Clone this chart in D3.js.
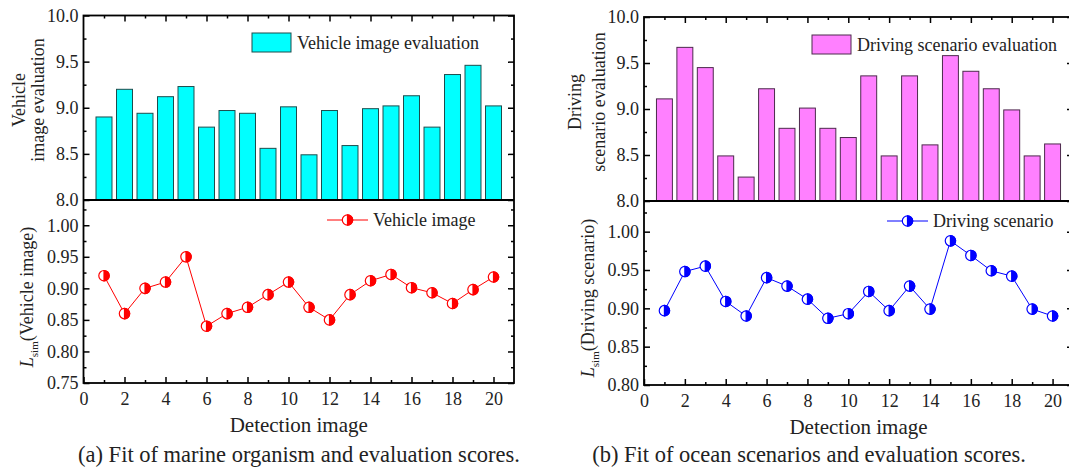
<!DOCTYPE html>
<html>
<head>
<meta charset="utf-8">
<script src="https://cdn.jsdelivr.net/npm/d3@7"></script>
<style>
  body { margin: 0; background: #fff; }
  svg { display: block; font-family: "Liberation Serif", "Times New Roman", serif; }
</style>
</head>
<body>
<svg id="chart" width="1069" height="468"></svg>
<script>
// detection image index
var images = [1, 2, 3, 4, 5, 6, 7, 8, 9, 10, 11, 12, 13, 14, 15, 16, 17, 18, 19, 20];

// (a) vehicle
var vehicleEval = [8.90, 9.20, 8.94, 9.12, 9.23, 8.79, 8.97, 8.94, 8.56, 9.01,
                   8.49, 8.97, 8.59, 8.99, 9.02, 9.13, 8.79, 9.36, 9.46, 9.02];
var vehicleSim  = [0.920, 0.860, 0.900, 0.910, 0.950, 0.840, 0.860, 0.870, 0.890, 0.910,
                   0.870, 0.850, 0.890, 0.912, 0.922, 0.901, 0.893, 0.876, 0.898, 0.918];

// (b) driving scenario
var drivingEval = [9.11, 9.67, 9.45, 8.49, 8.26, 9.22, 8.79, 9.01, 8.79, 8.69,
                   9.36, 8.49, 9.36, 8.61, 9.58, 9.41, 9.22, 8.99, 8.49, 8.62];
var drivingSim  = [0.897, 0.948, 0.955, 0.909, 0.890, 0.940, 0.929, 0.912, 0.887, 0.893,
                   0.922, 0.897, 0.929, 0.899, 0.988, 0.969, 0.949, 0.942, 0.899, 0.890];

var xTickLabels = [0, 2, 4, 6, 8, 10, 12, 14, 16, 18, 20];
var evalTicks = [8.0, 8.5, 9.0, 9.5, 10.0];
var simTicksA = [0.75, 0.80, 0.85, 0.90, 0.95, 1.00];
var simTicksB = [0.80, 0.85, 0.90, 0.95, 1.00];

var svg = d3.select("#chart");

var panels = [
  {
    left: 83.5, right: 514, topY: 15.5, midY: 200, botY: 383,
    simDomain: [0.75, 1.04], simTicks: simTicksA,
    bars: vehicleEval, sim: vehicleSim,
    barFill: "#00FFFF", barStroke: "#1d4d4d", lineColor: "#FF0000",
    title1: "Vehicle", title2: "image evaluation", t1x: 25, t2x: 44, tcy: 100,
    simTitle: "(Vehicle image)", stx: 33, scy: 297,
    barLegend: "Vehicle image evaluation", lineLegend: "Vehicle image",
    blx: 252, bly: 33, llx: 327, lly: 220,
    caption: "(a) Fit of marine organism and evaluation scores.", capX: 299
  },
  {
    left: 644, right: 1073, topY: 17, midY: 201, botY: 385,
    simDomain: [0.80, 1.04], simTicks: simTicksB,
    bars: drivingEval, sim: drivingSim,
    barFill: "#FF80FF", barStroke: "#4d2a4d", lineColor: "#0000FF",
    title1: "Driving", title2: "scenario evaluation", t1x: 581, t2x: 605, tcy: 102,
    simTitle: "(Driving scenario)", stx: 594, scy: 298,
    barLegend: "Driving scenario evaluation", lineLegend: "Driving scenario",
    blx: 812, bly: 35, llx: 887, lly: 221,
    caption: "(b) Fit of ocean scenarios and evaluation scores.", capX: 809
  }
];

function halfMarker(g, cx, cy, r, color) {
  g.append("circle")
    .attr("cx", cx).attr("cy", cy).attr("r", r)
    .attr("fill", "#fff").attr("stroke", color).attr("stroke-width", 1.2);
  g.append("path")
    .attr("d", "M" + cx + "," + (cy - r) + " A" + r + "," + r + " 0 0 1 " + cx + "," + (cy + r) + " Z")
    .attr("fill", color).attr("stroke", color).attr("stroke-width", 1.2);
}

function styleAxis(g) {
  g.select(".domain").remove();
  g.selectAll(".tick line").attr("stroke", "#000").attr("stroke-width", 1.5);
  g.selectAll(".tick text").attr("fill", "#222").style("font-size", "18px")
    .style("font-family", "Liberation Serif, serif");
}

panels.forEach(function(p) {
  var x = d3.scaleLinear().domain([0, 21]).range([p.left, p.right]);
  var yBar = d3.scaleLinear().domain([8, 10]).range([p.midY, p.topY]);
  var ySim = d3.scaleLinear().domain(p.simDomain).range([p.botY, p.midY]);
  var bw = x(0.78) - x(0);

  // bars
  svg.append("g").selectAll("rect")
    .data(p.bars)
    .enter().append("rect")
    .attr("x", function(d, i) { return x(images[i]) - bw / 2; })
    .attr("y", function(d) { return yBar(d); })
    .attr("width", bw)
    .attr("height", function(d) { return yBar(8) - yBar(d); })
    .attr("fill", p.barFill)
    .attr("stroke", p.barStroke)
    .attr("stroke-width", 1);

  // top plot ticks (all inward)
  var evalMinor = d3.range(8.25, 10, 0.5);
  var xMajor = xTickLabels;
  var xMinor = d3.range(1, 21, 2);

  svg.append("g").attr("transform", "translate(" + p.left + ",0)")
    .call(d3.axisLeft(yBar).tickValues(evalTicks).tickSize(-6).tickPadding(5).tickFormat(d3.format(".1f")))
    .call(styleAxis);
  svg.append("g").attr("transform", "translate(" + p.left + ",0)")
    .call(d3.axisLeft(yBar).tickValues(evalMinor).tickSize(-3).tickFormat(""))
    .call(styleAxis);
  svg.append("g").attr("transform", "translate(" + p.right + ",0)")
    .call(d3.axisRight(yBar).tickValues(evalTicks).tickSize(-6).tickFormat(""))
    .call(styleAxis);
  svg.append("g").attr("transform", "translate(" + p.right + ",0)")
    .call(d3.axisRight(yBar).tickValues(evalMinor).tickSize(-3).tickFormat(""))
    .call(styleAxis);
  svg.append("g").attr("transform", "translate(0," + p.topY + ")")
    .call(d3.axisTop(x).tickValues(xMajor.slice(1)).tickSize(-6).tickFormat(""))
    .call(styleAxis);
  svg.append("g").attr("transform", "translate(0," + p.topY + ")")
    .call(d3.axisTop(x).tickValues(xMinor).tickSize(-3).tickFormat(""))
    .call(styleAxis);

  // bottom plot ticks
  var simStep = 0.025;
  var simMinor = d3.range(p.simDomain[0] + simStep, 1.04, 0.05);
  svg.append("g").attr("transform", "translate(" + p.left + ",0)")
    .call(d3.axisLeft(ySim).tickValues(p.simTicks).tickSize(-6).tickPadding(5).tickFormat(d3.format(".2f")))
    .call(styleAxis);
  svg.append("g").attr("transform", "translate(" + p.left + ",0)")
    .call(d3.axisLeft(ySim).tickValues(simMinor).tickSize(-3).tickFormat(""))
    .call(styleAxis);
  svg.append("g").attr("transform", "translate(" + p.right + ",0)")
    .call(d3.axisRight(ySim).tickValues(p.simTicks).tickSize(-6).tickFormat(""))
    .call(styleAxis);
  svg.append("g").attr("transform", "translate(" + p.right + ",0)")
    .call(d3.axisRight(ySim).tickValues(simMinor).tickSize(-3).tickFormat(""))
    .call(styleAxis);
  svg.append("g").attr("transform", "translate(0," + p.botY + ")")
    .call(d3.axisBottom(x).tickValues(xMajor).tickSize(-6).tickPadding(9).tickFormat(d3.format("d")))
    .call(styleAxis);
  svg.append("g").attr("transform", "translate(0," + p.botY + ")")
    .call(d3.axisBottom(x).tickValues(xMinor).tickSize(-3).tickFormat(""))
    .call(styleAxis);

  // frames
  svg.append("rect")
    .attr("x", p.left).attr("y", p.topY)
    .attr("width", p.right - p.left).attr("height", p.botY - p.topY)
    .attr("fill", "none").attr("stroke", "#000").attr("stroke-width", 1.8);
  svg.append("line")
    .attr("x1", p.left).attr("x2", p.right).attr("y1", p.midY).attr("y2", p.midY)
    .attr("stroke", "#000").attr("stroke-width", 1.8);

  // line + markers
  var line = d3.line()
    .x(function(d, i) { return x(images[i]); })
    .y(function(d) { return ySim(d); });
  svg.append("path")
    .datum(p.sim)
    .attr("d", line)
    .attr("fill", "none")
    .attr("stroke", p.lineColor)
    .attr("stroke-width", 1);
  var mk = svg.append("g");
  p.sim.forEach(function(d, i) { halfMarker(mk, x(images[i]), ySim(d), 5.2, p.lineColor); });

  // legends
  svg.append("rect")
    .attr("x", p.blx).attr("y", p.bly).attr("width", 39).attr("height", 19)
    .attr("fill", p.barFill).attr("stroke", p.barStroke).attr("stroke-width", 1);
  svg.append("text")
    .attr("x", p.blx + 45).attr("y", p.bly + 16)
    .style("font-size", "18px").attr("fill", "#222")
    .text(p.barLegend);
  svg.append("line")
    .attr("x1", p.llx).attr("x2", p.llx + 41).attr("y1", p.lly).attr("y2", p.lly)
    .attr("stroke", p.lineColor).attr("stroke-width", 1);
  halfMarker(svg.append("g"), p.llx + 20.5, p.lly, 5.2, p.lineColor);
  svg.append("text")
    .attr("x", p.llx + 46).attr("y", p.lly + 6)
    .style("font-size", "18px").attr("fill", "#222")
    .text(p.lineLegend);

  // axis titles
  svg.append("text")
    .attr("transform", "translate(" + p.t1x + "," + p.tcy + ") rotate(-90)")
    .attr("text-anchor", "middle").style("font-size", "18px").attr("fill", "#222")
    .text(p.title1);
  svg.append("text")
    .attr("transform", "translate(" + p.t2x + "," + p.tcy + ") rotate(-90)")
    .attr("text-anchor", "middle").style("font-size", "18px").attr("fill", "#222")
    .text(p.title2);

  var st = svg.append("text")
    .attr("transform", "translate(" + p.stx + "," + p.scy + ") rotate(-90)")
    .attr("text-anchor", "middle").style("font-size", "18px").attr("fill", "#222");
  st.append("tspan").style("font-style", "italic").text("L");
  st.append("tspan").attr("dy", 5).style("font-size", "11px").text("sim");
  st.append("tspan").attr("dy", -5).text(p.simTitle);

  svg.append("text")
    .attr("x", (p.left + p.right) / 2).attr("y", p.botY + 49)
    .attr("text-anchor", "middle").style("font-size", "21px").attr("fill", "#222")
    .text("Detection image");

  svg.append("text")
    .attr("x", p.capX).attr("y", 462)
    .attr("text-anchor", "middle").style("font-size", "22.5px").attr("fill", "#222")
    .text(p.caption);
});
</script>
</body>
</html>
